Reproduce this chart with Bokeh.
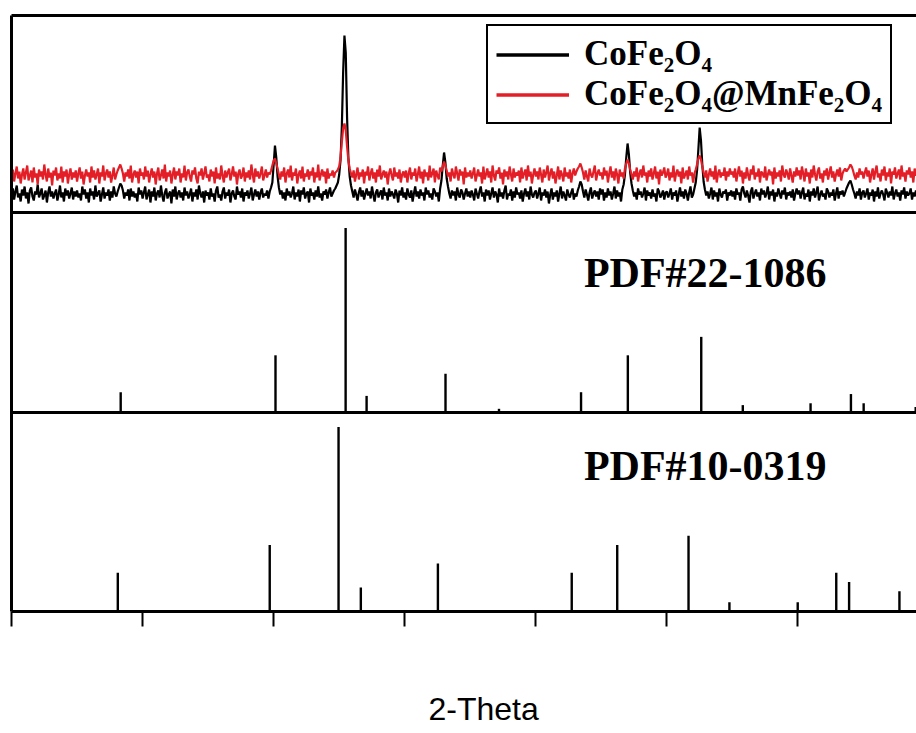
import numpy as np
from bokeh.plotting import figure
from bokeh.models import (Range1d, LinearAxis, Span, Label, Legend, LegendItem,
                          FixedTicker, CustomJSTickFormatter, Title)
from bokeh.embed import file_html
from bokeh.resources import INLINE

# ---------------- data ----------------
two_theta_start = 10.0   # degrees, first sample of the measured patterns
two_theta_step = 0.1     # degrees between samples

# CoFe2O4 measured pattern (arbitrary counts)
cofe2o4_counts = [
    18,24,13,21,27,15,19,11,23,17,26,14,20,9,22,25,16,12,21,18,28,15,19,24,13,17,22,10,20,26,16,21,14,19,23,12,18,27,15,20,11,24,17,22,14,19,25,13,21,16,
    22,15,19,12,26,18,23,14,20,10,24,17,21,13,27,16,19,22,11,18,25,14,20,17,23,12,21,15,26,19,16,21,25,29,27,22,14,20,17,23,12,24,16,21,15,19,11,25,18,22,
    14,20,26,13,18,23,10,21,16,25,12,19,22,15,27,17,11,20,24,14,18,21,9,23,16,26,13,19,22,15,20,12,25,17,21,14,18,24,11,20,16,23,13,27,19,15,21,10,22,17,
    20,13,24,16,19,11,22,26,15,18,12,21,25,14,20,17,23,10,19,22,16,13,26,18,21,15,24,11,20,17,22,14,19,25,12,18,23,16,21,13,20,24,15,19,17,22,14,21,25,30,
    48,67,55,36,25,18,22,14,20,12,24,17,21,15,19,26,13,20,16,23,11,22,18,25,14,19,21,10,24,17,20,13,22,16,26,15,19,12,21,18,23,14,20,25,16,19,22,24,27,30,
    38,52,85,140,177,160,95,55,36,27,21,15,23,18,12,20,25,16,22,13,19,24,17,21,14,26,18,11,20,23,15,19,22,13,25,17,20,12,24,16,21,18,14,23,19,10,22,17,25,15,
    20,13,24,18,15,22,11,19,26,16,21,14,23,17,20,12,25,18,22,15,19,13,24,21,16,20,11,24,32,47,60,50,34,26,19,14,22,17,21,12,25,18,15,23,20,13,19,24,16,21,
    15,22,18,12,24,19,14,21,26,16,20,11,23,17,22,13,19,25,15,21,18,10,24,16,20,14,22,27,13,19,17,23,12,21,15,25,18,20,14,22,11,19,24,16,21,13,26,18,15,20,
    22,14,19,25,12,20,17,23,15,21,9,18,24,13,20,16,22,11,19,26,14,21,17,12,23,18,15,20,24,13,19,16,22,26,31,28,21,15,23,18,12,20,25,14,19,22,16,21,13,24,
    18,23,12,20,15,24,17,21,13,19,26,14,22,16,20,11,23,28,38,55,69,58,40,29,22,16,20,13,24,18,21,15,19,25,12,22,17,20,14,23,16,19,11,24,21,15,18,22,13,20,
    21,15,19,24,13,20,17,22,11,18,25,16,21,14,23,19,12,20,26,15,18,24,30,42,63,85,72,48,31,23,17,21,14,19,25,13,22,16,20,11,24,18,15,21,19,23,12,20,17,22,
    16,21,13,24,18,20,12,23,26,19,15,22,17,10,21,25,14,19,23,16,20,12,24,18,22,15,19,26,13,21,17,23,11,20,16,24,19,14,22,18,25,13,20,17,21,15,23,12,19,24,
    18,22,14,20,25,13,19,16,23,11,21,17,24,15,20,26,12,18,22,16,19,13,24,21,15,20,17,23,12,19,25,14,21,18,22,16,20,24,27,30,32,28,23,19,14,21,17,24,13,20,
    22,15,19,24,13,20,17,23,11,21,16,25,14,19,22,18,12,24,20,15,21,17,26,13,19,23,16,20,12,22,18,25,14,21,17,19,24,13,20,16,22,18,
]

# CoFe2O4@MnFe2O4 measured pattern (arbitrary counts)
core_shell_counts = [
    36,43,31,39,46,34,41,29,38,44,33,40,47,32,37,42,30,45,35,39,28,43,36,41,33,48,38,31,44,35,40,27,42,37,45,32,39,34,46,30,41,36,43,29,38,44,33,40,35,42,
    31,39,45,34,41,28,37,43,36,40,30,46,35,42,33,38,44,29,40,36,47,32,39,43,35,41,30,37,45,33,38,42,45,48,44,39,31,40,36,43,34,47,30,38,42,35,41,29,44,37,
    40,33,46,36,42,30,38,44,35,41,28,39,45,32,37,43,34,48,31,40,36,42,29,38,45,33,41,37,44,30,39,35,47,32,40,43,36,31,42,38,45,34,29,41,37,44,33,39,46,35,
    38,31,43,36,41,29,45,34,39,33,47,37,30,42,35,40,44,32,38,46,36,41,28,39,43,34,37,45,31,40,35,42,33,48,38,30,44,36,41,34,39,46,32,37,43,35,40,38,42,47,
    52,54,49,44,38,33,41,36,45,30,39,43,35,47,32,40,37,44,29,38,42,34,46,31,39,36,43,33,41,37,45,30,40,35,48,32,38,43,36,41,29,44,34,39,37,42,35,40,41,43,
    46,55,70,84,89,82,66,52,44,39,35,42,31,38,45,33,40,36,43,29,41,37,46,32,39,44,34,40,30,43,36,47,33,38,42,35,41,28,39,44,37,32,45,36,40,34,43,30,38,41,
    35,42,30,39,45,33,40,37,44,31,38,46,34,41,29,43,36,40,32,47,35,39,44,30,42,37,33,45,41,46,51,47,42,36,40,31,44,38,34,46,39,32,43,37,41,28,45,35,40,36,
    42,34,39,45,31,37,43,36,40,29,46,33,38,44,35,41,30,47,37,32,42,39,45,34,40,28,43,36,41,33,46,38,31,44,35,40,37,42,30,45,34,39,43,32,47,36,41,29,38,44,
    36,41,33,45,38,30,43,35,40,47,32,39,44,34,41,29,37,46,33,42,38,31,45,36,40,34,43,30,39,44,37,41,44,46,49,45,40,33,42,36,31,44,38,35,41,47,32,39,43,37,
    40,33,45,37,42,30,39,46,35,41,32,44,38,29,43,36,40,34,44,49,53,49,43,38,33,41,36,45,31,39,43,35,47,37,40,30,42,36,44,33,39,46,34,41,28,43,37,40,45,35,
    38,44,32,40,35,47,31,39,43,36,41,29,45,34,38,42,33,46,37,40,30,39,43,48,54,57,53,46,40,35,42,31,38,44,36,41,33,47,30,39,43,35,40,37,45,32,41,36,44,38,
    41,35,44,31,39,46,36,42,29,40,34,45,37,32,43,38,47,33,40,36,44,30,41,39,35,46,32,38,43,37,41,28,45,34,40,36,42,31,47,38,35,43,39,33,44,37,30,41,36,45,
    37,42,33,46,39,31,44,36,40,29,43,35,47,38,32,41,45,34,39,30,42,37,44,33,40,46,35,41,31,38,43,36,45,32,39,42,44,41,43,45,48,46,42,37,33,40,35,44,38,41,
    34,40,45,36,42,30,38,44,33,41,47,35,39,31,43,37,46,32,40,36,44,29,41,38,45,34,39,43,33,47,36,40,31,42,38,45,35,41,30,44,37,39,
]

# Reference cards: stick positions (2-theta, deg) and relative intensities
pdf_22_1086_two_theta = [18.33, 30.14, 35.49, 37.09, 43.11, 47.19, 53.45, 57.02, 62.62, 65.79, 70.96, 74.04, 75.01, 78.98]
pdf_22_1086_intensity = [11, 31, 100, 9, 21, 2, 11, 31, 41, 4, 5, 10, 5, 3]
pdf_10_0319_two_theta = [18.11, 29.70, 34.95, 36.65, 42.53, 52.74, 56.21, 61.65, 64.77, 69.98, 72.92, 73.90, 77.74]
pdf_10_0319_intensity = [21, 36, 100, 13, 26, 21, 36, 41, 5, 5, 21, 16, 11]

x_tick_values = [10, 20, 30, 40, 50, 60, 70, 80]
series_names = ["CoFe\u2082O\u2084", "CoFe\u2082O\u2084@MnFe\u2082O\u2084"]
card_names = ["PDF#22-1086", "PDF#10-0319"]
x_title = "2-Theta"

# ---------------- layout ----------------
W, H = 916, 733
B_LEFT, B_TOP, B_BOTTOM = 11, 15, 122
FRAME_W = W - B_LEFT
FRAME_H = H - B_TOP - B_BOTTOM          # 596 px
PX_PER_DEG = 13.108
X0 = 10.0
X1 = X0 + FRAME_W / PX_PER_DEG

BOTTOM_PANEL, MIDDLE_PANEL, TOP_PANEL = 0, 199, 399   # px above frame bottom
STICK_PX = 1.845                                      # px per relative-intensity unit

p = figure(width=W, height=H, output_backend="svg", toolbar_location=None,
           x_range=Range1d(X0, X1), y_range=Range1d(0, FRAME_H),
           min_border_left=B_LEFT, min_border_right=0,
           min_border_top=B_TOP, min_border_bottom=B_BOTTOM,
           outline_line_color=None, background_fill_color="white",
           border_fill_color="white")
p.extra_y_ranges = {
    "spectra": Range1d(-TOP_PANEL, FRAME_H - TOP_PANEL),
    "pdf22": Range1d(-MIDDLE_PANEL / STICK_PX, (FRAME_H - MIDDLE_PANEL) / STICK_PX),
    "pdf10": Range1d(-BOTTOM_PANEL / STICK_PX, (FRAME_H - BOTTOM_PANEL) / STICK_PX),
}
p.xgrid.visible = False
p.ygrid.visible = False

# measured patterns
x_black = two_theta_start + two_theta_step * np.arange(len(cofe2o4_counts))
x_red = two_theta_start + two_theta_step * np.arange(len(core_shell_counts))
RED = "#e41e26"
p.line(x_black, cofe2o4_counts, y_range_name="spectra", line_color="black", line_width=2.2)
p.line(x_red, core_shell_counts, y_range_name="spectra", line_color=RED, line_width=2.2)

# legend proxies (thicker legend lines, no visible data)
leg_black = p.line([np.nan], [np.nan], y_range_name="spectra", line_color="black", line_width=3.5)
leg_red = p.line([np.nan], [np.nan], y_range_name="spectra", line_color=RED, line_width=3.5)

# reference sticks
p.segment(x0=pdf_22_1086_two_theta, y0=[0] * len(pdf_22_1086_two_theta),
          x1=pdf_22_1086_two_theta, y1=pdf_22_1086_intensity,
          y_range_name="pdf22", line_color="black", line_width=2.4)
p.segment(x0=pdf_10_0319_two_theta, y0=[0] * len(pdf_10_0319_two_theta),
          x1=pdf_10_0319_two_theta, y1=pdf_10_0319_intensity,
          y_range_name="pdf10", line_color="black", line_width=2.4)

# panel separators
for loc in (MIDDLE_PANEL, TOP_PANEL):
    p.add_layout(Span(location=loc, dimension="width", line_color="black", line_width=3))

# axes
xa = p.xaxis[0]
xa.ticker = FixedTicker(ticks=x_tick_values)
xa.formatter = CustomJSTickFormatter(code="return ''")
xa.axis_line_width = 3
xa.major_tick_line_width = 2
xa.major_tick_out = 15
xa.major_tick_in = 0
xa.minor_tick_out = 0
xa.minor_tick_in = 0
xa.major_label_standoff = 0

ya = p.yaxis[0]
ya.ticker = FixedTicker(ticks=[])
ya.axis_line_width = 3
ya.major_tick_out = 0
ya.major_tick_in = 0
ya.minor_tick_out = 0
ya.minor_tick_in = 0
ya.major_label_standoff = 0

top_axis = LinearAxis(ticker=FixedTicker(ticks=[]), axis_line_width=3,
                      major_tick_out=0, major_tick_in=0, minor_tick_out=0,
                      minor_tick_in=0, major_label_standoff=0)
p.add_layout(top_axis, "above")

# x title, pushed down by top padding so it sits where the reference has it
p.add_layout(Title(text=x_title, align="left", offset=417, standoff=0,
                   vertical_align="top",
                   padding=dict(left=0, right=0, top=64, bottom=0),
                   text_font="Liberation Sans", text_font_style="normal",
                   text_font_size="32px", text_color="black"), "below")

# legend
legend = Legend(items=[LegendItem(label=series_names[0], renderers=[leg_black]),
                       LegendItem(label=series_names[1], renderers=[leg_red])],
                location=(475, 487), orientation="vertical",
                label_text_font="Liberation Serif", label_text_font_style="bold",
                label_text_font_size="35px", label_text_color="black",
                label_text_line_height=1.0,
                glyph_width=73, glyph_height=39, label_height=39,
                label_standoff=15, spacing=0, padding=8, margin=0,
                border_line_color="black", border_line_width=2.5, border_line_alpha=1.0,
                background_fill_color="white", background_fill_alpha=1.0)
p.add_layout(legend)

# card names
p.add_layout(Label(x=53.67, y=339, text=card_names[0], text_font="Liberation Serif",
                   text_font_style="bold", text_font_size="42px",
                   text_baseline="alphabetic", text_align="left", text_color="black"))
p.add_layout(Label(x=53.67, y=146, text=card_names[1], text_font="Liberation Serif",
                   text_font_style="bold", text_font_size="42px",
                   text_baseline="alphabetic", text_align="left", text_color="black"))

open("out.html", "w").write(file_html(p, INLINE))
